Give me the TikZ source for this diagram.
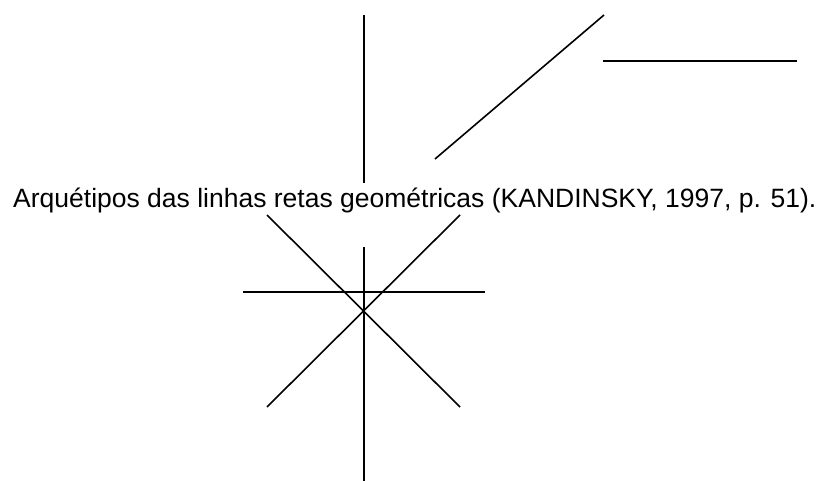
\documentclass[tikz,border=0pt]{standalone}
\usepackage{fontspec}
\setmainfont{Liberation Sans}
\usetikzlibrary{positioning}
\tikzset{ln/.style={line width=1.6pt},captxt/.style={anchor=base west,inner sep=0pt,font=\fontsize{26.5}{30}\selectfont}}

\begin{document}
\begin{tikzpicture}[x=1pt,y=-1pt]
\useasboundingbox(0,0)rectangle(822,481);
% archetypes above the caption
\coordinate(v1)at(364,15);\coordinate(v2)at(364,183);
\coordinate(d1)at(435,159);\coordinate(d2)at(604,15);
\coordinate(h1)at(603,61);\coordinate(h2)at(797,61);
\draw[ln](v1)--(v2);\draw[ln](d1)--(d2);\draw[ln](h1)--(h2);
% star below the caption
\coordinate(c)at(364,311);
\foreach\n/\x/\y in{a/267/215,b/460/215,e/460/407,f/267/407,t/364/247,u/364/481,l/243/292,r/485/292}\coordinate(s\n)at(\x,\y);
\foreach\a/\b in{a/e,b/f,t/u,l/r}\draw[ln](s\a)--(s\b);
\node[captxt](title)at(13,208){Arquétipos das linhas retas geométricas (KANDINSKY, 1997, p. 51).};
\end{tikzpicture}
\end{document}
